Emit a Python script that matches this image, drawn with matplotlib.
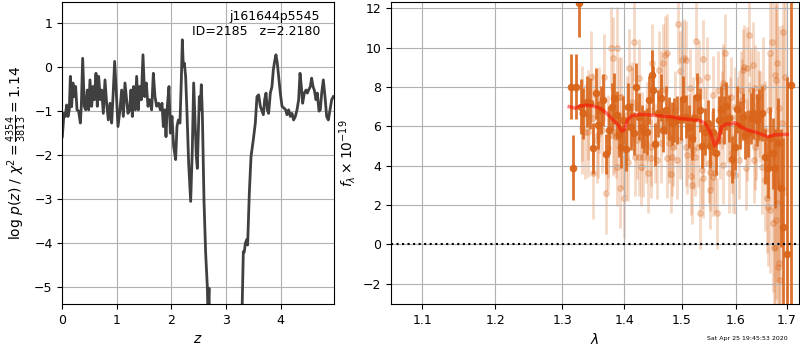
import numpy as np
import matplotlib
matplotlib.use("Agg")
import matplotlib.pyplot as plt
from matplotlib.ticker import FixedLocator, FixedFormatter, NullLocator

# ---------------- left panel: log p(z) ----------------
z_grid = [0.0, 0.031, 0.055, 0.079, 0.104, 0.128, 0.147, 0.171, 0.195, 0.22, 0.244, 0.269,
          0.299, 0.33, 0.348, 0.373, 0.403, 0.428, 0.458, 0.483, 0.507, 0.538, 0.562, 0.586,
          0.617, 0.641, 0.666, 0.696, 0.721, 0.751, 0.782, 0.812, 0.843, 0.874, 0.904, 0.929,
          0.959, 0.99, 1.02, 1.057, 1.087, 1.118, 1.148, 1.179, 1.203, 1.234, 1.258, 1.283,
          1.307, 1.338, 1.362, 1.393, 1.417, 1.448, 1.478, 1.509, 1.539, 1.57, 1.6, 1.637,
          1.668, 1.698, 1.729, 1.765, 1.796, 1.827, 1.851, 1.875, 1.9, 1.924, 1.955, 1.979,
          2.01, 2.04, 2.077, 2.101, 2.126, 2.156, 2.181, 2.199, 2.217, 2.236, 2.26, 2.285,
          2.315, 2.352, 2.382, 2.407, 2.431, 2.456, 2.474, 2.492, 2.511, 2.529, 2.547, 2.566,
          2.596, 2.627, 2.657, 2.669, 2.688, 2.706, 2.8, 3.0, 3.2, 3.293, 3.317, 3.335, 3.354,
          3.378, 3.396, 3.427, 3.458, 3.5, 3.537, 3.567, 3.598, 3.629, 3.653, 3.684, 3.708,
          3.733, 3.757, 3.781, 3.812, 3.842, 3.867, 3.891, 3.915, 3.94, 3.965, 3.995, 4.026,
          4.062, 4.093, 4.117, 4.148, 4.178, 4.209, 4.239, 4.27, 4.301, 4.331, 4.356, 4.38,
          4.404, 4.435, 4.466, 4.49, 4.514, 4.545, 4.569, 4.594, 4.618, 4.649, 4.673, 4.704,
          4.728, 4.753, 4.783, 4.814, 4.844, 4.875, 4.905, 4.936, 4.966]
log_pz = [-1.58, -1.05, -1.12, -0.86, -1.12, -0.97, -0.21, -0.9, -0.36, -0.67, -0.44, -0.97,
          -1.0, -1.27, -0.89, 0.2, -0.89, -0.97, -0.52, -0.97, -0.29, -0.89, -0.44, -0.74,
          -0.14, -0.89, -0.21, -0.74, -0.52, -1.05, -0.29, -0.82, -1.2, -0.82, -1.27, -0.67,
          0.13, -0.59, -1.35, -0.97, -0.52, -1.12, -0.36, -0.74, -1.05, -0.97, -0.52, -1.12,
          -0.44, -0.97, -0.21, -0.97, -0.44, -0.74, 0.28, -0.67, -0.36, -0.89, -0.74, -0.97,
          -0.14, -0.67, -0.89, -0.82, -0.97, -0.82, -1.35, -0.97, -1.58, -0.89, -0.44, -1.5,
          -1.12, -1.8, -2.1, -1.35, -1.2, -1.27, -0.29, 0.62, 0.02, 0.09, -0.21, -1.05,
          -2.18, -3.05, -1.88, -0.36, -1.2, -2.03, -2.3, -1.5, -0.67, -0.97, -0.4, -1.05,
          -3.02, -4.23, -4.98, -5.6, -5.02, -6.5, -12.0, -15.0, -12.0, -5.6, -4.19, -4.2, -4.0,
          -3.92, -4.04, -2.86, -2.03, -1.65, -1.27, -0.67, -0.63, -0.89, -0.97, -1.08, -0.74,
          -0.59, -0.97, -1.05, -0.59, -0.44, -0.06, 0.13, 0.28, 0.09, -0.21, -0.59, -0.89,
          -0.93, -0.97, -1.08, -0.97, -1.12, -1.05, -1.2, -1.12, -0.97, -0.74, -0.14, -0.44,
          -0.82, -0.59, -0.52, -0.59, -0.52, -0.44, -0.25, -0.44, -0.52, -0.74, -0.59, -1.0,
          -0.97, -0.59, -0.29, -0.67, -1.12, -1.2, -0.97, -0.74, -0.67]

z_ticks = [0, 1, 2, 3, 4]
logp_ticks = [-5, -4, -3, -2, -1, 0, 1]
label_lines = ["j161644p5545", "ID=2185   z=2.2180"]

# ---------------- right panel: spectrum ----------------
bin_wave = [1.3133, 1.3175, 1.3217, 1.3264, 1.3291, 1.3333, 1.3387, 1.3440, 1.3483, 1.3531,
            1.3574, 1.3613, 1.3656, 1.3700, 1.3754, 1.3793, 1.3831, 1.3876, 1.3920, 1.3942,
            1.3987, 1.4026, 1.4070, 1.4115, 1.4160, 1.4206, 1.4251, 1.4296, 1.4336, 1.4381,
            1.4427, 1.4468, 1.4497, 1.4532, 1.4584, 1.4630, 1.4671, 1.4718, 1.4771, 1.4818,
            1.4866, 1.4919, 1.4978, 1.5026, 1.5074, 1.5122, 1.5176, 1.5225, 1.5273, 1.5329,
            1.5365, 1.5421, 1.5470, 1.5519, 1.5574, 1.5624, 1.5674, 1.5724, 1.5768, 1.5818,
            1.5874, 1.5925, 1.5976, 1.6028, 1.6079, 1.6130, 1.6181, 1.6233, 1.6285, 1.6337,
            1.6403, 1.6448, 1.6507, 1.6566, 1.6619, 1.6666, 1.6719, 1.6772, 1.6832, 1.6879,
            1.6933, 1.7001, 1.7096]
bin_flux = [8.0, 3.9, 8.0, 12.25, 7.0, 6.66, 7.25, 7.17, 4.88, 7.68,
            6.07, 6.83, 7.34, 4.6, 5.81, 7.0, 7.42, 6.58, 5.56, 4.97,
            6.32, 4.83, 7.0, 5.98, 5.64, 8.0, 6.49, 5.98, 5.73, 5.73,
            7.34, 8.6, 7.85, 5.08, 6.66, 7.46, 5.81, 6.83, 6.4, 6.15,
            6.32, 6.32, 6.4, 7.37, 6.49, 5.98, 5.39, 6.4, 7.5, 6.83,
            5.0, 5.73, 6.15, 5.0, 5.73, 4.63, 6.32, 6.83, 6.32, 7.03,
            6.4, 4.32, 4.97, 6.86, 6.07, 6.49, 5.56, 5.64, 6.4, 6.66,
            6.32, 6.58, 6.66, 4.46, 3.86, 5.39, 4.63, 3.86, 5.14, 2.85,
            0.9, -0.5, 8.1]
bin_err = [1.65, 1.65, 1.65, 1.7, 1.4, 1.3, 1.3, 1.3, 1.3, 1.3,
           1.2, 1.2, 1.3, 1.0, 1.2, 1.2, 1.3, 1.2, 1.1, 1.1,
           1.2, 1.1, 1.2, 1.2, 1.1, 1.2, 1.2, 1.1, 1.1, 1.2,
           1.2, 1.3, 1.2, 1.1, 1.2, 1.2, 1.1, 1.2, 1.1, 1.1,
           1.1, 1.2, 1.1, 1.2, 1.1, 1.1, 1.1, 1.2, 1.2, 1.1,
           1.1, 1.2, 1.2, 1.1, 1.2, 1.1, 1.2, 1.2, 1.2, 1.2,
           1.2, 1.2, 1.2, 1.2, 1.2, 1.2, 1.2, 1.2, 1.3, 1.3,
           1.3, 1.3, 1.4, 1.4, 1.5, 1.6, 1.8, 2.0, 2.3, 3.0,
           4.5, 9.0, 12.0]

raw_wave = [1.3307, 1.3360, 1.3414, 1.3456, 1.3494, 1.3547, 1.3591, 1.3629, 1.3667, 1.3700,
            1.3738, 1.3776, 1.3809, 1.3831, 1.3864, 1.3887, 1.3909, 1.3937, 1.3970, 1.4004,
            1.4031, 1.4059, 1.4087, 1.4126, 1.4166, 1.4183, 1.4222, 1.4256, 1.4279, 1.4324,
            1.4370, 1.4410, 1.4450, 1.4479, 1.4526, 1.4566, 1.4596, 1.4630, 1.4671, 1.4701,
            1.4742, 1.4777, 1.4801, 1.4836, 1.4878, 1.4907, 1.4937, 1.4966, 1.4996, 1.5038,
            1.5074, 1.5098, 1.5128, 1.5158, 1.5176, 1.5207, 1.5237, 1.5255, 1.5285, 1.5316,
            1.5329, 1.5365, 1.5390, 1.5427, 1.5464, 1.5488, 1.5513, 1.5550, 1.5574, 1.5612,
            1.5637, 1.5668, 1.5699, 1.5730, 1.5762, 1.5793, 1.5837, 1.5868, 1.5900, 1.5925,
            1.5951, 1.5983, 1.6028, 1.6066, 1.6092, 1.6130, 1.6156, 1.6194, 1.6220, 1.6246,
            1.6285, 1.6324, 1.6350, 1.6390, 1.6422, 1.6468, 1.6501, 1.6533, 1.6566, 1.6599,
            1.6633, 1.6666, 1.6699, 1.6719, 1.6746, 1.6772, 1.6786, 1.6799, 1.6832, 1.6865,
            1.6899, 1.6933, 1.6967,
            1.3307, 1.3414, 1.3494, 1.3574, 1.3738, 1.3820, 1.3942, 1.4053, 1.4138, 1.4307,
            1.4393, 1.4450, 1.4624, 1.4742, 1.4771, 1.4830, 1.4251, 1.3887, 1.5140, 1.5568,
            1.5755, 1.5201, 1.5881, 1.4960, 1.5080, 1.5507, 1.5755, 1.5384, 1.6213, 1.6117,
            1.6376, 1.6792, 1.6839, 1.6376, 1.5989, 1.6673, 1.6772, 1.6839, 1.6806, 1.6053,
            1.6246, 1.6442, 1.6573, 1.6639]
raw_flux = [5.98, 5.73, 6.58, 8.53, 3.61, 5.31, 6.83, 5.81, 8.49, 2.63,
            5.47, 9.97, 9.46, 5.73, 5.47, 9.97, 7.51, 2.85, 4.8, 2.34,
            4.46, 4.2, 8.95, 7.25, 10.31, 4.46, 5.31, 8.44, 3.95, 4.42,
            5.14, 3.61, 4.37, 9.2, 5.14, 4.29, 8.86, 5.14, 9.2, 9.63,
            4.37, 5.44, 3.58, 4.97, 6.83, 4.29, 11.19, 8.83, 9.37, 9.46,
            9.37, 4.54, 5.64, 3.47, 3.02, 4.8, 4.46, 10.34, 4.93, 8.36,
            1.58, 3.78, 9.41, 5.98, 8.53, 4.12, 2.76, 4.8, 3.44, 3.61,
            1.58, 7.85, 5.31, 6.83, 8.19, 9.71, 6.15, 3.61, 7.51, 4.63,
            3.61, 7.0, 6.49, 4.29, 7.85, 8.86, 9.03, 3.86, 5.31, 10.64,
            7.85, 9.12, 4.29, 5.47, 7.51, 6.49, 3.95, 8.02, 3.27, 2.34,
            1.92, 9.71, 10.31, 1.07, -0.2, 8.61, 1.24, 9.2, -1.14, -1.81,
            6.15, 10.81, 8.53,
            6.66, 5.72, 6.4, 5.56, 4.88, 5.56, 7.5, 6.57, 7.0, 5.73,
            6.23, 4.96, 7.84, 9.71, 5.13, 4.45, 4.45, 3.95, 7.93, 7.59,
            8.05, 6.49, 6.49, 5.3, 4.96, 3.69, 4.03, 3.36, 8.95, 7.34,
            7.93, 8.35, 6.91, 4.96, 3.52, 1.74, -0.12, -0.97, 2.08, 6.83,
            6.15, 6.66, 5.81, 6.83]
raw_err = [2.4, 2.4, 2.3, 2.3, 2.3, 2.2, 2.2, 2.2, 2.2, 2.1,
           2.1, 2.1, 2.1, 2.1, 2.1, 2.1, 2.0, 2.0, 2.0, 2.0,
           2.0, 2.0, 2.0, 2.0, 2.0, 2.0, 2.0, 2.0, 2.0, 2.0,
           2.0, 2.0, 2.0, 2.0, 2.0, 2.0, 2.0, 2.0, 2.0, 2.0,
           2.0, 2.0, 2.0, 2.0, 2.0, 2.0, 2.0, 2.0, 2.0, 2.0,
           2.0, 2.0, 2.0, 2.0, 2.0, 2.0, 2.0, 2.0, 2.0, 2.0,
           1.8, 2.0, 2.0, 2.0, 2.0, 2.0, 2.0, 2.0, 2.0, 2.0,
           1.8, 2.0, 2.0, 2.0, 2.0, 2.0, 2.0, 2.0, 2.0, 2.0,
           2.0, 2.0, 2.0, 2.0, 2.0, 2.1, 2.1, 2.1, 2.1, 2.1,
           2.1, 2.2, 2.2, 2.2, 2.3, 2.3, 2.4, 2.5, 2.6, 2.8,
           3.0, 3.2, 3.4, 3.5, 3.6, 3.8, 4.0, 4.2, 4.5, 4.8,
           5.0, 5.5, 6.0,
           2.4, 2.3, 2.3, 2.2, 2.1, 2.1, 2.0, 2.0, 2.0, 2.0,
           2.0, 2.0, 2.0, 2.0, 2.0, 2.0, 2.0, 2.0, 2.0, 2.0,
           2.0, 2.0, 2.0, 2.0, 2.0, 2.0, 2.0, 2.0, 2.1, 2.1,
           2.2, 3.8, 4.2, 2.2, 2.0, 3.2, 3.8, 4.2, 4.0, 2.0,
           2.1, 2.2, 2.5, 2.8]

model_wave = [1.3112, 1.3201, 1.3280, 1.3387, 1.3494, 1.3602, 1.3711, 1.3820, 1.3903, 1.3959,
              1.3998, 1.4059, 1.4126, 1.4267, 1.4439, 1.4613, 1.4789, 1.4966, 1.5146, 1.5329,
              1.5421, 1.5513, 1.5605, 1.5668, 1.5730, 1.5824, 1.5919, 1.5983, 1.6047, 1.6143,
              1.6272, 1.6403, 1.6533, 1.6633, 1.6733, 1.6865, 1.7014]
model_flux = [7.0, 6.92, 7.03, 7.08, 7.03, 6.92, 6.66, 6.32, 6.07, 5.76,
              5.8, 6.32, 6.53, 6.61, 6.58, 6.53, 6.49, 6.4, 6.35, 6.29,
              6.15, 5.73, 5.0, 5.31, 5.98, 6.12, 6.12, 6.19, 6.07, 5.9,
              5.78, 5.68, 5.56, 5.47, 5.56, 5.58, 5.59]

wave_ticks = [1.1, 1.2, 1.3, 1.4, 1.5, 1.6, 1.7]
flux_ticks = [-2, 0, 2, 4, 6, 8, 10, 12]
timestamp = "Sat Apr 25 19:45:53 2020"

# ---------------- figure ----------------
fig = plt.figure(figsize=(8, 3.5), dpi=100)
ax1 = fig.add_axes([0.0779, 0.1314, 0.339, 0.863])
ax2 = fig.add_axes([0.489, 0.1314, 0.5096, 0.863])

fs = 9
lfs = 10
ax1.plot(z_grid, log_pz, color='0.25', lw=2)
ax1.set_xlim(0, 4.97)
ax1.set_ylim(-5.38, 1.48)
ax1.set_xticks(z_ticks)
ax1.set_yticks(logp_ticks)
ax1.grid(True)
ax1.set_xlabel(r'$z$', fontsize=lfs)
ax1.set_ylabel(r'$\log\,p(z)$ / $\chi^2=\frac{4354}{3813}=1.14$', fontsize=lfs)
ax1.tick_params(labelsize=fs)
ax1.text(0.95, 0.975, "\n".join(label_lines), ha='right', va='top',
         transform=ax1.transAxes, fontsize=fs)

orange = '#d9651a'
ax2.errorbar(raw_wave, raw_flux, yerr=raw_err, fmt='o', color=orange, alpha=0.25,
             markersize=4, elinewidth=2, capsize=0, zorder=1)
ax2.errorbar(bin_wave, bin_flux, yerr=bin_err, fmt='o', color=orange, alpha=0.9,
             markersize=4.5, elinewidth=2, capsize=0, zorder=2)
ax2.plot(model_wave, model_flux, color='red', alpha=0.5, lw=2.5, zorder=3)
ax2.axhline(0, color='k', linestyle=':', lw=1.5, zorder=4)
ax2.set_xscale('log')
ax2.set_xlim(1.06, 1.725)
ax2.set_ylim(-3.03, 12.32)
ax2.xaxis.set_major_locator(FixedLocator(wave_ticks))
ax2.xaxis.set_major_formatter(FixedFormatter([f"{w:.1f}" for w in wave_ticks]))
ax2.xaxis.set_minor_locator(NullLocator())
ax2.set_yticks(flux_ticks)
ax2.grid(True)
ax2.set_xlabel(r'$\lambda$', fontsize=lfs)
ax2.set_ylabel(r'$f_\lambda\times10^{-19}$', fontsize=lfs)
ax2.tick_params(labelsize=fs)

fig.text(0.985, 0.027, timestamp, ha='right', va='bottom', fontsize=4.5)

fig.savefig("out.png", dpi=100)
